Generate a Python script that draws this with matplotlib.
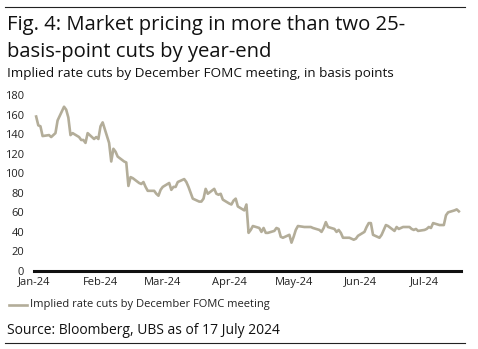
import numpy as np
import pandas as pd
import matplotlib
matplotlib.use("Agg")
import matplotlib.pyplot as plt
import matplotlib.dates as mdates
from matplotlib.lines import Line2D

plt.rcParams['font.family'] = ['Open Sans', 'DejaVu Sans']

# Implied cuts (bp) priced for the December FOMC meeting, business days
start_date = '2024-01-02'
end_date = '2024-07-17'
cuts_bp = [
    158, 149, 148, 138, 139, 137, 139, 141, 154, 168,
    165, 157, 139, 141, 137, 134, 134, 131, 141, 135,
    137, 135, 148, 152, 131, 112, 125, 122, 117, 112,
    111, 87, 96, 95, 90, 89, 91, 86, 82, 82,
    79, 77, 83, 86, 90, 83, 86, 86, 91, 94,
    91, 86, 80, 74, 71, 71, 74, 84, 79, 84,
    79, 78, 79, 73, 69,
    68, 72, 74, 66, 62, 68, 39, 42, 46, 44,
    40, 44, 39, 39, 41, 44, 43, 35, 34, 37,
    29, 35, 42, 46, 45, 45, 45, 45, 44, 42, 40,
    44, 50, 45, 43, 40, 42, 39, 34, 34, 33,
    32, 33, 36, 40, 45, 49, 49, 37, 34, 37,
    42, 47, 46, 41, 45, 43, 44, 45, 45, 43, 42,
    43, 41, 42, 43, 45, 44, 49, 47, 47, 47,
    57, 60, 62, 63, 61,
]
y_ticks = [0, 20, 40, 60, 80, 100, 120, 140, 160, 180]
series_label = 'Implied rate cuts by December FOMC meeting'

dates = pd.bdate_range(start_date, end_date)
values = np.array(cuts_bp[:len(dates)])
dates = dates[:len(values)]

W, H = 478, 349
fig = plt.figure(figsize=(W / 100, H / 100), dpi=100)

def fy(py):
    return 1 - py / H

line_color = '#B3AD99'

ax = fig.add_axes([34 / W, fy(271), (461 - 34) / W, (271 - 95) / H])
ax.plot(dates, values, color=line_color, lw=1.9, solid_joinstyle='round')

ax.set_ylim(0, 180)
ax.set_yticks(y_ticks)
ax.set_xlim(pd.Timestamp('2024-01-01'), pd.Timestamp('2024-07-18'))
ax.xaxis.set_major_locator(mdates.MonthLocator())
ax.xaxis.set_major_formatter(mdates.DateFormatter('%b-%y'))

for side in ['top', 'right', 'left']:
    ax.spines[side].set_visible(False)
ax.spines['bottom'].set_linewidth(2.2)
ax.spines['bottom'].set_color('#111111')
ax.tick_params(axis='both', length=0, labelsize=8, colors='#222222')
ax.tick_params(axis='y', pad=7)
ax.tick_params(axis='x', pad=4)

# header and footer rules
fig.add_artist(Line2D([5 / W, 465 / W], [fy(7), fy(7)], color='#222222', lw=0.8))
fig.add_artist(Line2D([5 / W, 465 / W], [fy(343), fy(343)], color='#222222', lw=0.8))

fig.text(7 / W, fy(30), 'Fig. 4: Market pricing in more than two 25-',
         fontsize=14.6, va='baseline', color='#111111')
fig.text(7 / W, fy(57), 'basis-point cuts by year-end',
         fontsize=14.6, va='baseline', color='#111111')
fig.text(7 / W, fy(77), 'Implied rate cuts by December FOMC meeting, in basis points',
         fontsize=9.7, va='baseline', color='#111111')

# legend entry
fig.add_artist(Line2D([9 / W, 27 / W], [fy(305), fy(305)], color=line_color, lw=1.9))
fig.text(30 / W, fy(305), series_label, fontsize=8, va='center', color='#222222')

fig.text(7 / W, fy(334), 'Source: Bloomberg, UBS as of 17 July 2024',
         fontsize=10, va='baseline', color='#111111')

fig.savefig('out.png', dpi=100)
